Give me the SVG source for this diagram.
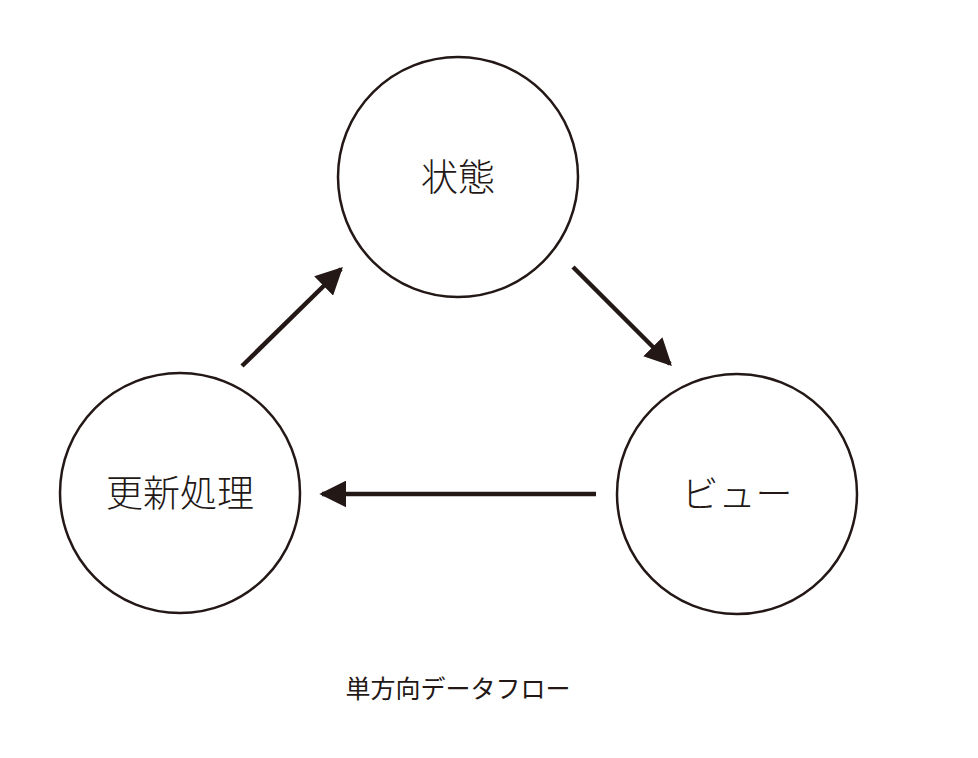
<svg xmlns="http://www.w3.org/2000/svg" width="978" height="758" viewBox="0 0 978 758">
<style>
.node circle{fill:#fff;stroke:#231815;stroke-width:2.5}
.label{font-family:"Noto Sans CJK JP","Noto Sans CJK SC",sans-serif;font-size:37px;font-weight:300;fill:#231815;text-anchor:middle;dominant-baseline:central}
.edge{stroke:#231815;stroke-width:4.5;fill:none;marker-end:url(#ah)}
.caption{font-family:"Noto Sans CJK JP",sans-serif;font-size:25px;font-weight:400;fill:#231815;text-anchor:middle}
</style>
<defs>
<marker id="ah" viewBox="0 0 10 10" refX="9" refY="5" markerWidth="6" markerHeight="6" markerUnits="strokeWidth" orient="auto">
<path d="M0,0 L10,5 L0,10 Z" fill="#231815"/>
</marker>
</defs>
<rect width="978" height="758" fill="#fff"/>
<g id="state" class="node"><circle cx="458" cy="177" r="120"/><text class="label" x="458" y="175">状態</text></g>
<g id="view" class="node"><circle cx="737" cy="494" r="120"/><text class="label" x="737" y="492">ビュー</text></g>
<g id="update" class="node"><circle cx="180" cy="493" r="120"/><text class="label" x="180" y="491">更新処理</text></g>
<g id="connectors">
<line class="edge" x1="242" y1="366" x2="341" y2="269"/>
<line class="edge" x1="573" y1="267" x2="670" y2="364"/>
<line class="edge" x1="596" y1="494" x2="322" y2="494"/>
</g>
<text class="caption" x="458" y="698">単方向データフロー</text>
</svg>
